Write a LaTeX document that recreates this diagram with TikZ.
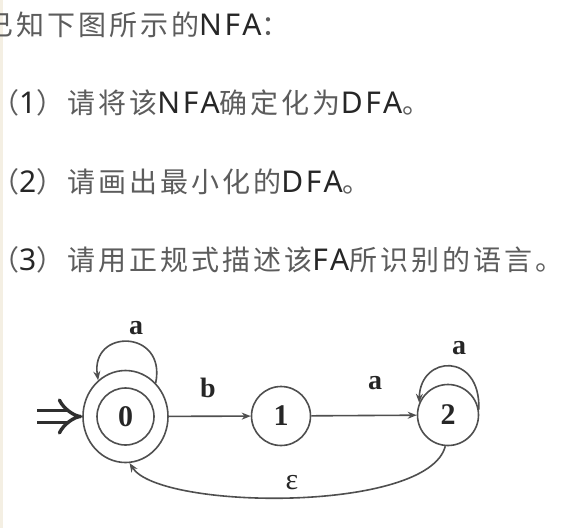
\documentclass[tikz,border=0pt]{standalone}
\usepackage{fontspec}
\usetikzlibrary{arrows.meta,shapes.geometric}
\newfontfamily\cjk[LetterSpace=10.7]{Noto Sans CJK SC}
\newfontfamily\latf[LetterSpace=9.2]{Noto Sans}
\newfontfamily\lab{Liberation Serif}
\definecolor{cjkgray}{HTML}{5C5C5C}
\definecolor{latdark}{HTML}{262626}
\definecolor{linegray}{HTML}{4F4F4F}
\definecolor{stripcol}{HTML}{F4EFE3}
\newcommand\lat[1]{{\latf\fontsize{30}{34}\selectfont\textcolor{latdark}{#1}}}
\begin{document}
\begin{tikzpicture}[x=1pt,y=-1pt,
  qline/.style={font=\cjk\fontsize{28}{34}\selectfont, text=cjkgray, anchor=base west, inner sep=0pt},
  edge/.style={draw=linegray, line width=1.6pt, -{Stealth[length=9pt,width=7pt]}},
  lbl/.style={font=\lab\bfseries\fontsize{28}{28}\selectfont, text=latdark, inner sep=0pt},
  st/.style={circle, draw=linegray, line width=1.6pt, inner sep=0pt, font=\lab\bfseries\fontsize{30}{30}\selectfont, text=latdark}]
\useasboundingbox (0,0) rectangle (588,528);
\fill[white] (0,0) rectangle (588,528);
\fill[stripcol] (0,0) rectangle (3,528);

% question text
\node[qline] (q0) at (-15,35) {已知下图所示的\lat{NFA}：};
\node[qline] (q1) at (0,113) {\hspace*{-9pt}（\lat{1}）请将该\lat{NFA}确定化为\lat{DFA}。};
\node[qline] (q2) at (0,192) {\hspace*{-9pt}（\lat{2}）请画出最小化的\lat{DFA}。};
\node[qline] (q3) at (0,270) {\hspace*{-9pt}（\lat{3}）请用正规式描述该\lat{FA}所识别的语言。};

% states
\node[ellipse, draw=linegray, line width=1.6pt, minimum width=85pt, minimum height=92pt, inner sep=0pt] (s0) at (125.5,416.5) {};
\node[st, minimum size=57pt] (s0in) at (s0.center) {0};
\node[st, minimum size=59pt] (s1) at (281,416) {1};
\node[st, minimum size=61pt] (s2) at (448,415) {2};

% initial arrow
\coordinate (init) at (37,416.5);
\draw[draw=linegray!60!black, double, double distance=9pt, line width=3.4pt, -{Implies}] (init) -- (s0.west);

% transitions
\draw[edge] (s0) -- (s1);
\draw[edge] (s1) -- (s2);
\draw[edge] (s0.48) .. controls +(11,-54) and +(-8,-52) .. (s0.127);
\draw[edge] (s2.10) .. controls +(2,-58) and +(1,-48) .. (s2.157);
\draw[edge] (s2.265) .. controls +(-17,67) and +(30,47) .. (s0.-85);

% labels
\node[lbl] (la0) at (136,328) {a};
\node[lbl] (lb) at (208,388) {b};
\node[lbl] (la1) at (375,383) {a};
\node[lbl] (la2) at (459,348) {a};
\node[font=\lab\fontsize{30}{30}\selectfont, text=latdark, inner sep=0pt] (le) at (292,483) {ε};
\end{tikzpicture}
\end{document}
